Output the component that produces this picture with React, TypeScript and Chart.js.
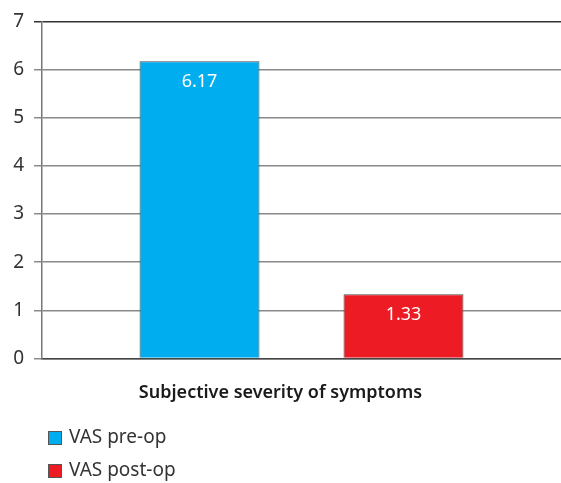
import React, { useEffect, useRef } from "react";
import { Chart, registerables } from "chart.js";

Chart.register(...registerables);

const categories = [""];
const seriesLabels = ["VAS pre-op", "VAS post-op"];
const preOp = [6.17];
const postOp = [1.33];
const seriesColors = ["#00AEEF", "#ED1C24"];
const yTicks = [0, 1, 2, 3, 4, 5, 6, 7];
const xTitle = "Subjective severity of symptoms";

const FONT = "'Noto Sans', 'Open Sans', sans-serif";

const valueLabels = {
  id: "valueLabels",
  afterDatasetsDraw(chart: any) {
    const ctx = chart.ctx;
    ctx.save();
    ctx.fillStyle = "#ffffff";
    ctx.font = `18px ${FONT}`;
    ctx.textAlign = "center";
    ctx.textBaseline = "middle";
    chart.data.datasets.forEach((ds: any, i: number) => {
      const meta = chart.getDatasetMeta(i);
      meta.data.forEach((bar: any, j: number) => {
        ctx.fillText(Number(ds.data[j]).toFixed(2), bar.x, bar.y + 21);
      });
    });
    ctx.restore();
  },
};

const vertLegend = {
  id: "vertLegend",
  afterDraw(chart: any) {
    const ctx = chart.ctx;
    const h = chart.height;
    ctx.save();
    ctx.font = `19px ${FONT}`;
    ctx.textBaseline = "middle";
    ctx.textAlign = "left";
    chart.data.datasets.forEach((ds: any, i: number) => {
      const cy = h - 45 + i * 33;
      ctx.fillStyle = ds.backgroundColor;
      ctx.fillRect(48.5, cy - 6.5, 13, 13);
      ctx.strokeStyle = "#555";
      ctx.lineWidth = 1;
      ctx.strokeRect(48.5, cy - 6.5, 13, 13);
      ctx.fillStyle = "#333";
      ctx.fillText(ds.label, 69, cy);
    });
    ctx.restore();
  },
};

export default function App() {
  const ref = useRef<HTMLCanvasElement | null>(null);
  useEffect(() => {
    document.body.style.margin = "0";
    const chart = new Chart(ref.current as HTMLCanvasElement, {
      type: "bar",
      data: {
        labels: categories,
        datasets: [
          {
            label: seriesLabels[0],
            data: preOp,
            backgroundColor: seriesColors[0],
            borderColor: "#4a4a4a",
            borderWidth: 1,
          },
          {
            label: seriesLabels[1],
            data: postOp,
            backgroundColor: seriesColors[1],
            borderColor: "#4a4a4a",
            borderWidth: 1,
          },
        ],
      },
      options: {
        responsive: false,
        animation: false,
        layout: { padding: { top: 18, right: 0, left: 0, bottom: 79 } },
        datasets: {
          bar: { categoryPercentage: 0.786, barPercentage: 0.588 },
        },
        scales: {
          x: {
            afterFit: (s: any) => {
              s.height = 0;
            },
            grid: { display: false },
            border: { display: true, color: "#444", width: 1.5 },
            ticks: { display: false },
          },
          y: {
            min: 0,
            max: 7,
            afterFit: (s: any) => {
              s.width = 42;
            },
            afterBuildTicks: (s: any) => {
              s.ticks = yTicks.map((v) => ({ value: v }));
            },
            grid: {
              color: (c: any) => (c.tick && c.tick.value === 7 ? "#333" : "#8a8a8a"),
              lineWidth: 1.5,
              tickLength: 8,
              drawTicks: true,
            },
            border: { display: true, color: "#777", width: 1.5 },
            ticks: {
              padding: 10,
              color: "#333",
              font: { family: FONT, size: 19 },
            },
          },
        },
        plugins: {
          legend: { display: false },
          tooltip: { enabled: false },
          title: {
            display: true,
            text: xTitle,
            position: "bottom",
            color: "#1a1a1a",
            font: { family: FONT, size: 18, weight: "600" },
            padding: { top: 24, bottom: 0 },
          },
        },
      },
      plugins: [valueLabels, vertLegend],
    });
    return () => chart.destroy();
  }, []);
  return <canvas ref={ref} width={561} height={483} />;
}
